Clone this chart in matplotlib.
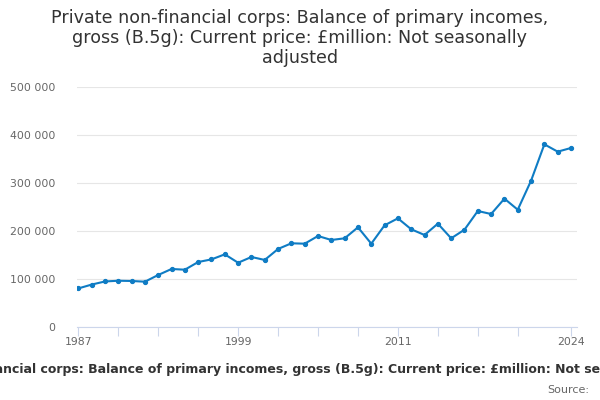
import matplotlib
matplotlib.use("Agg")
import matplotlib.pyplot as plt
from matplotlib.ticker import FuncFormatter, FixedLocator

years = list(range(1987, 2025))
values = [81000, 89000, 95500, 97000, 96500, 95000, 109000, 121500, 120000, 136000,
          141500, 152000, 134500, 146500, 140300, 163200, 175000, 174200, 190200, 181900,
          185400, 208300, 174200, 212500, 227000, 204200, 192300, 215900, 185400, 203400,
          242300, 236000, 268000, 245000, 305400, 381200, 365900, 373600]
title = "Private non-financial corps: Balance of primary incomes, gross (B.5g): Current price: £million: Not seasonally adjusted"
title_wrapped = "Private non-financial corps: Balance of primary incomes,\ngross (B.5g): Current price: £million: Not seasonally\nadjusted"
y_ticks = [0, 100000, 200000, 300000, 400000, 500000]
x_label_years = [1987, 1999, 2011, 2024]
x_tick_years = list(range(1987, 2021, 3)) + [2024]

plt.rcParams['font.family'] = ['DejaVu Sans']
fig = plt.figure(figsize=(6, 4), dpi=100)
ax = fig.add_axes([77/600, 1 - 327.3/400, (577-77)/600, 240/400])

line_color = '#0f7cc4'
ax.plot(years, values, color=line_color, linewidth=1.5, marker='o', markersize=2.8, zorder=3)

ax.set_ylim(0, 500000)
ax.set_xlim(1987 - 0.1, 2024 + 0.45)
ax.set_yticks(y_ticks)
ax.yaxis.set_major_formatter(FuncFormatter(lambda v, p: "0" if v == 0 else f"{int(v):,}".replace(",", " ")))
ax.xaxis.set_major_locator(FixedLocator(x_tick_years))
ax.set_xticklabels([str(y) if y in x_label_years else "" for y in x_tick_years])

ax.grid(axis='y', color='#e6e6e6', linewidth=0.8)
ax.set_axisbelow(True)
for s in ['top', 'right', 'left']:
    ax.spines[s].set_visible(False)
ax.spines['bottom'].set_color('#ccd6eb')
ax.tick_params(axis='x', colors='#ccd6eb', length=6.7, width=0.8, labelcolor='#666666', labelsize=7.8, pad=0.5)
ax.tick_params(axis='y', length=0, labelcolor='#666666', labelsize=7.8, pad=15.5)
for lbl in ax.get_yticklabels():
    lbl.set_horizontalalignment('right')

fig.text(0.5, 1 - 38/400, title_wrapped, ha='center', va='center', fontsize=12.6, color='#333333', linespacing=1.15)
fig.text(307/600, 1 - 370/400, title, ha='center', va='center', fontsize=9, fontweight='bold', color='#333333')
fig.text(589/600, 1 - 390/400, "Source:", ha='right', va='center', fontsize=8, color='#666666')

fig.savefig("out.png", dpi=100)
